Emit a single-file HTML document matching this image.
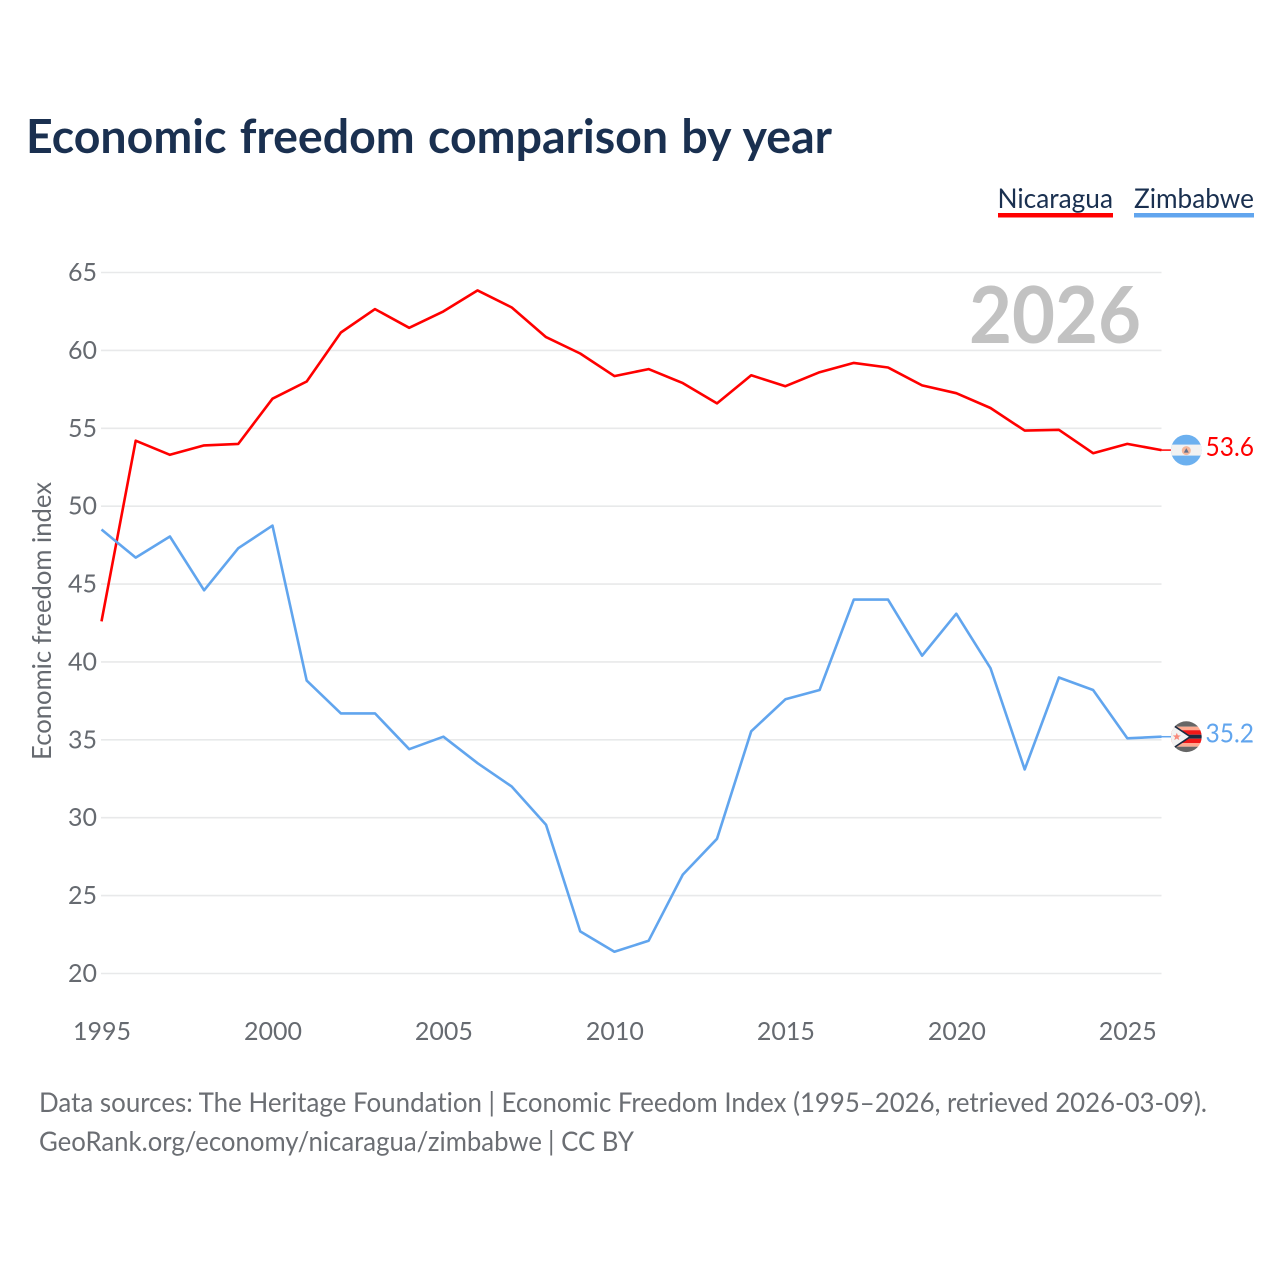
<!DOCTYPE html>
<html lang="en">
<head>
<meta charset="utf-8">
<title>Economic freedom comparison by year</title>
<style>
html,body{margin:0;padding:0;background:#fff;}
svg{display:block;font-family:"Lato","Carlito","Liberation Sans",sans-serif;font-variant-ligatures:none;}
</style>
</head>
<body>
<svg id="chart" xmlns="http://www.w3.org/2000/svg" width="1280" height="1280" viewBox="0 0 1280 1280">
  <rect width="1280" height="1280" fill="#fff"/>
  <text x="26" y="153" font-size="47" font-weight="700" fill="#1a3050" word-spacing="2" textLength="806" lengthAdjust="spacingAndGlyphs">Economic freedom comparison by year</text>
  <g>
    <g>
      <text x="997.5" y="208" font-size="27" fill="#1a3050" textLength="115.5" lengthAdjust="spacingAndGlyphs">Nicaragua</text>
      <rect x="998" y="213" width="115" height="4.5" fill="#ff0000"/>
    </g>
    <g>
      <text x="1134" y="208" font-size="27" fill="#1a3050" textLength="120" lengthAdjust="spacingAndGlyphs">Zimbabwe</text>
      <rect x="1134" y="213" width="120" height="4.5" fill="#61a5ee"/>
    </g>
  </g>
  <g id="grid"></g>
  <g id="yticks"></g>
  <g id="xticks"></g>
  <text x="1141" y="343" text-anchor="end" font-size="79" font-weight="700" fill="#c2c2c2" textLength="172" lengthAdjust="spacingAndGlyphs">2026</text>
  <text transform="translate(51,621) rotate(-90)" text-anchor="middle" font-size="26" fill="#666a70" textLength="278" lengthAdjust="spacingAndGlyphs">Economic freedom index</text>
  <g id="series"></g>
  <g id="ends"></g>
  <defs>
    <clipPath id="clip-ni"><circle cx="0" cy="0" r="15.4"/></clipPath>
    <clipPath id="clip-zw"><circle cx="0" cy="0" r="15.4"/></clipPath>
  </defs>
  <g font-size="27" fill="#6b6e73">
    <text x="39" y="1112" textLength="443" lengthAdjust="spacingAndGlyphs">Data sources: The Heritage Foundation</text>
    <text x="488.5" y="1112" textLength="718.5" lengthAdjust="spacingAndGlyphs">| Economic Freedom Index (1995–2026, retrieved 2026-03-09).</text>
    <text x="39" y="1151" textLength="503" lengthAdjust="spacingAndGlyphs">GeoRank.org/economy/nicaragua/zimbabwe</text>
    <text x="548" y="1151" textLength="86" lengthAdjust="spacingAndGlyphs">| CC BY</text>
  </g>
</svg>
<script>
const years = [1995,1996,1997,1998,1999,2000,2001,2002,2003,2004,2005,2006,2007,2008,2009,2010,2011,2012,2013,2014,2015,2016,2017,2018,2019,2020,2021,2022,2023,2024,2025,2026];
const nicaragua = [42.6,54.2,53.3,53.9,54.0,56.9,58.0,61.15,62.65,61.45,62.5,63.85,62.75,60.85,59.8,58.35,58.8,57.9,56.6,58.4,57.7,58.6,59.2,58.9,57.75,57.25,56.3,54.85,54.9,53.4,54.0,53.6];
const zimbabwe = [48.5,46.7,48.05,44.6,47.3,48.75,38.8,36.7,36.7,34.4,35.2,33.5,32.0,29.55,22.7,21.4,22.1,26.35,28.65,35.55,37.6,38.2,44.0,44.0,40.4,43.1,39.6,33.1,39.0,38.2,35.1,35.2];
const yTickLabels = [20,25,30,35,40,45,50,55,60,65];
const xTickLabels = [1995,2000,2005,2010,2015,2020,2025];

const NS = 'http://www.w3.org/2000/svg';
function xScale(year){ return 101.5 + (year - 1995) * (1161.5 - 101.5) / 31; }
function yScale(v){ return 973.5 - (v - 20) * (973.5 - 272.5) / 45; }
function make(tag, attrs, parent){
  const el = document.createElementNS(NS, tag);
  for (const k in attrs) el.setAttribute(k, attrs[k]);
  parent.appendChild(el);
  return el;
}
const grid = document.getElementById('grid');
const yticks = document.getElementById('yticks');
const xticks = document.getElementById('xticks');
const seriesG = document.getElementById('series');
const ends = document.getElementById('ends');

yTickLabels.forEach(function(v){
  const line = make('line', {x1:101, x2:1161.5, y1:yScale(v), y2:yScale(v), stroke:'#e8e9ea', 'stroke-width':1.6}, grid);
  
  
  const t = make('text', {x:97, y:yScale(v) + 8.5, 'text-anchor':'end', 'font-size':25, fill:'#666a70'}, yticks);
  
  
  t.textContent = v;
});
xTickLabels.forEach(function(y){
  const t = make('text', {x:xScale(y) + 0.5, y:1040, 'text-anchor':'middle', 'font-size':25, fill:'#666a70'}, xticks);
  
  
  t.textContent = y;
});

function drawLine(values, color, name){
  const d = values.map(function(v, i){ return (i ? 'L' : 'M') + xScale(years[i]).toFixed(1) + ' ' + yScale(v).toFixed(1); }).join(' ');
  const p = make('path', {d:d, fill:'none', stroke:color, 'stroke-width':2.6, 'stroke-linejoin':'round'}, seriesG);
  
  
}
drawLine(nicaragua, '#ff0000', 'nicaragua');
drawLine(zimbabwe, '#61a5ee', 'zimbabwe');

function endMark(values, color, name, drawFlag){
  const last = values[values.length - 1];
  const y = yScale(last);
  const c = make('line', {x1:xScale(2026), x2:1171, y1:y, y2:y, stroke:color, 'stroke-width':1.5}, ends);
  
  
  const g = make('g', {transform:'translate(1186.3,' + y.toFixed(1) + ')', 'clip-path':'url(#clip-' + (name === 'nicaragua' ? 'ni' : 'zw') + ')'}, ends);
  
  
  drawFlag(g);
  const t = make('text', {x:1205.5, y:y + 6, 'font-size':26.5, fill:color, textLength:48.5, lengthAdjust:'spacingAndGlyphs'}, ends);
  
  
  t.textContent = last.toFixed(1);
}
endMark(nicaragua, '#ff0000', 'nicaragua', function(g){
  make('rect', {x:-16, y:-16, width:32, height:32, fill:'#6cb0ef'}, g);
  make('rect', {x:-16, y:-5.5, width:32, height:11, fill:'#f2f2f2'}, g);
  make('circle', {cx:0, cy:0.5, r:4.5, fill:'#f5b79c'}, g);
  make('path', {d:'M-2.5 2.5 L0 -2 L2.5 2.5 Z', fill:'#66708a'}, g);
});
endMark(zimbabwe, '#61a5ee', 'zimbabwe', function(g){
  const rows = [['#666',-16,6],['#ffa98f',-10,3.5],['#f01818',-6.5,4.5],['#1b2a40',-2,4],['#f01818',2,4.5],['#ffa98f',6.5,3.5],['#666',10,6]];
  rows.forEach(function(r){ make('rect', {x:-16, y:r[1], width:32, height:r[2], fill:r[0]}, g); });
  make('path', {d:'M-17 -14 L4 0 L-17 14 Z', fill:'#f2f2f2', stroke:'#1b2a40', 'stroke-width':1.6}, g);
  make('path', {d:'M-9.5 -4 L-8.4 -1.3 L-5.5 -1.2 L-7.8 0.6 L-7 3.4 L-9.5 1.8 L-12 3.4 L-11.2 0.6 L-13.5 -1.2 L-10.6 -1.3 Z', fill:'#f98a7c'}, g);
});
</script>
</body>
</html>
